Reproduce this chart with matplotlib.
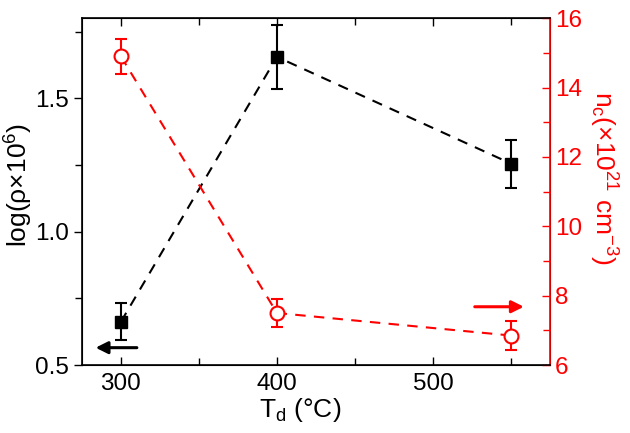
import matplotlib
matplotlib.use('Agg')
import matplotlib.pyplot as plt
from matplotlib.ticker import MultipleLocator

plt.rcParams['font.family'] = ['Liberation Sans', 'DejaVu Sans']
plt.rcParams['mathtext.fontset'] = 'custom'
plt.rcParams['mathtext.rm'] = 'Liberation Sans'
plt.rcParams['mathtext.it'] = 'Liberation Sans'

# data
temps = [300, 400, 550]
log_rho = [0.662, 1.655, 1.255]
log_rho_err = [0.07, 0.12, 0.09]
n_c = [14.9, 7.5, 6.85]
n_c_err = [0.5, 0.4, 0.43]

fig = plt.figure(figsize=(6.3, 4.33), dpi=100)
ax = fig.add_axes([0.130, 0.157, 0.743, 0.801])
ax2 = ax.twinx()

ax.errorbar(temps, log_rho, yerr=log_rho_err, fmt='s', color='k', ms=9,
            capsize=4, elinewidth=1.5, capthick=1.5, zorder=3)
ax.plot(temps, log_rho, '--', color='k', lw=1.5, dashes=(5, 4))

ax2.errorbar(temps, n_c, yerr=n_c_err, fmt='o', color='red', mfc='white',
             mec='red', mew=1.5, ms=10, capsize=4, elinewidth=1.5, capthick=1.5, zorder=3)
ax2.plot(temps, n_c, '--', color='red', lw=1.5, dashes=(5, 4), zorder=2)

ax.set_xlim(275, 575)
ax.set_ylim(0.5, 1.8)
ax2.set_ylim(6, 16)

ax.xaxis.set_major_locator(MultipleLocator(100))
ax.xaxis.set_minor_locator(MultipleLocator(50))
ax.yaxis.set_major_locator(MultipleLocator(0.5))
ax.yaxis.set_minor_locator(MultipleLocator(0.25))
ax2.yaxis.set_major_locator(MultipleLocator(2))
ax2.yaxis.set_minor_locator(MultipleLocator(1))

fs = 17.5
ax.tick_params(axis='x', which='both', direction='in', top=True, labelsize=fs, pad=6)
ax.tick_params(axis='x', which='major', length=6, width=1)
ax.tick_params(axis='x', which='minor', length=5, width=1)
ax.tick_params(axis='y', which='both', direction='out', labelsize=fs)
ax.tick_params(axis='y', which='major', length=6, width=1)
ax.tick_params(axis='y', which='minor', length=5, width=1)
ax2.tick_params(axis='y', which='both', direction='in', colors='red', labelsize=fs)
ax2.tick_params(axis='y', which='major', length=6, width=1)
ax2.tick_params(axis='y', which='minor', length=5, width=1)

for s in ['left', 'top', 'bottom']:
    ax2.spines[s].set_linewidth(1.2)
ax2.spines['right'].set_color('red')
ax2.spines['right'].set_linewidth(1.2)

ax.set_xlabel(r'T$_\mathregular{d}$ (°C)', fontsize=19, va='top')
ax.xaxis.set_label_coords(0.466, -0.088)
ax.set_ylabel(r'log(ρ×10$^\mathregular{6}$)', fontsize=19, va='bottom')
ax.yaxis.set_label_coords(-0.100, 0.52)
ax2.set_ylabel(r'n$_\mathregular{c}$(×10$^\mathregular{21}$ cm$^\mathregular{-3}$)',
               fontsize=19, color='red', rotation=270, va='bottom')
ax2.yaxis.set_label_coords(1.079, 0.54)

ax.annotate('', xy=(282, 0.565), xytext=(312, 0.565),
            arrowprops=dict(arrowstyle='-|>', color='k', lw=2.2, mutation_scale=18))
ax2.annotate('', xy=(560, 7.68), xytext=(525, 7.68),
             arrowprops=dict(arrowstyle='-|>', color='red', lw=2.2, mutation_scale=18))

fig.savefig('out.png', dpi=100)
